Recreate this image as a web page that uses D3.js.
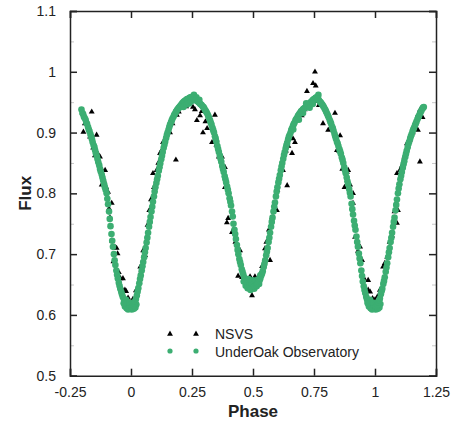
<!DOCTYPE html>
<html>
<head>
<meta charset="utf-8">
<script src="https://cdn.jsdelivr.net/npm/d3@7"></script>
<style>
  body { margin: 0; background: #fff; }
  text { font-family: "Liberation Sans", Arial, sans-serif; }
</style>
</head>
<body>
<div id="chart-area"></div>
<script>
var margin = { left: 70, right: 17, top: 11, bottom: 47.3 };
var width = 453 - margin.left - margin.right,
    height = 423 - margin.top - margin.bottom;

// tick values
var xTicks = [-0.25, 0, 0.25, 0.5, 0.75, 1, 1.25];
var yTicks = [0.5, 0.6, 0.7, 0.8, 0.9, 1, 1.1];
var yMinor = [0.55, 0.65, 0.75, 0.85, 0.95, 1.05];

var seriesNames = ["NSVS", "UnderOak Observatory"];

// NSVS points [phase, flux]
var nsvs = [
  [-0.195,.901],[-0.189,.915],[-0.183,.921],[-0.176,.91],[-0.168,.893],[-0.161,.934],[-0.155,.875],
  [-0.148,.862],[-0.141,.896],[-0.137,.866],[-0.127,.86],[-0.12,.814],[-0.118,.838],[-0.112,.822],
  [-0.106,.838],[-0.102,.81],[-0.094,.802],[-0.09,.775],[-0.086,.76],[-0.079,.784],[-0.078,.722],
  [-0.072,.688],[-0.066,.712],[-0.059,.71],[-0.055,.701],[-0.05,.67],[-0.043,.66],[-0.036,.642],
  [-0.033,.66],[-0.025,.641],[-0.02,.639],[-0.012,.628],[0.008,.626],
  [0.02,.64],[0.028,.644],[0.038,.679],[0.042,.673],[0.05,.706],[0.058,.698],[0.068,.748],[0.075,.772],
  [0.082,.79],[0.09,.833],[0.094,.81],[0.105,.838],[0.112,.85],[0.119,.866],[0.125,.87],[0.131,.884],
  [0.142,.893],[0.16,.9],[0.17,.915],[0.18,.932],[0.184,.855],[0.188,.929],[0.196,.934],[0.205,.942],
  [0.215,.948],[0.226,.943],[0.24,.95],[0.254,.942],
  [0.262,.938],[0.27,.92],[0.283,.928],[0.29,.935],[0.295,.9],[0.305,.918],[0.312,.907],[0.324,.92],
  [0.332,.884],[0.344,.929],[0.35,.88],[0.36,.86],[0.373,.86],[0.385,.843],[0.385,.81],[0.393,.752],
  [0.398,.759],[0.406,.794],[0.414,.736],[0.42,.74],[0.428,.72],[0.439,.664],[0.447,.706],[0.455,.662],
  [0.462,.658],[0.475,.652],[0.488,.663],[0.496,.632],[0.508,.663],[0.515,.65],
  [0.52,.66],[0.53,.668],[0.537,.68],[0.549,.709],[0.555,.72],[0.565,.74],[0.57,.69],[0.578,.76],
  [0.598,.772],[0.6,.805],[0.61,.833],[0.623,.838],[0.64,.813],[0.635,.87],[0.645,.878],[0.66,.866],
  [0.664,.89],[0.672,.884],[0.685,.92],[0.7,.928],[0.712,.938],[0.721,.968],[0.73,.945],[0.746,.981],
  [0.754,1.0],[0.757,.977],[0.76,.952],
  [0.77,.945],[0.787,.915],[0.795,.94],[0.808,.904],[0.82,.91],[0.836,.932],[0.844,.871],[0.852,.87],
  [0.857,.895],[0.866,.84],[0.875,.81],[0.885,.835],[0.89,.838],[0.898,.814],[0.91,.784],[0.91,.8],
  [0.918,.728],[0.93,.705],[0.939,.712],[0.947,.69],[0.955,.66],[0.965,.64],[0.972,.657],[0.972,.641],
  [0.98,.638],[0.99,.627],[1.0,.625],
  [1.01,.63],[1.02,.641],[1.033,.679],[1.04,.685],[1.05,.695],[1.06,.72],[1.07,.73],[1.08,.77],
  [1.09,.751],[1.094,.772],[1.09,.833],[1.102,.838],[1.11,.845],[1.12,.86],[1.131,.882],[1.143,.888],
  [1.155,.9],[1.165,.91],[1.176,.904],[1.184,.852],[1.176,.929],[1.184,.937],[1.195,.925]
];

// UnderOak Observatory points [phase, flux]
var underOak = [
  [-0.203,.938],[-0.199,.932],[-0.196,.93],[-0.193,.926],[-0.19,.924],[-0.186,.921],[-0.183,.916],
  [-0.18,.914],[-0.176,.909],[-0.173,.905],[-0.17,.902],[-0.166,.897],[-0.163,.893],[-0.16,.889],
  [-0.157,.884],[-0.153,.879],[-0.15,.876],[-0.147,.871],[-0.144,.866],[-0.14,.861],[-0.137,.856],
  [-0.134,.851],[-0.13,.846],[-0.127,.84],[-0.124,.836],[-0.12,.831],[-0.117,.826],[-0.114,.821],
  [-0.11,.815],[-0.107,.81],[-0.104,.806],[-0.1,.8],[-0.097,.791],[-0.094,.782],[-0.09,.77],
  [-0.087,.758],[-0.084,.746],[-0.08,.733],[-0.077,.722],[-0.074,.712],[-0.07,.7],[-0.067,.69],
  [-0.064,.682],[-0.06,.673],[-0.057,.666],[-0.054,.66],[-0.05,.653],[-0.047,.648],[-0.044,.643],
  [-0.04,.638],[-0.037,.634],[-0.034,.63],[-0.03,.627],[-0.027,.624],[-0.024,.621],[-0.02,.619],
  [-0.017,.617],[-0.014,.615],[-0.01,.613],[-0.007,.612],[-0.004,.611],[0,.612],
  [-0.025,.614],[-0.018,.611],[-0.012,.609],[-0.005,.616],[0.003,.609],[0.008,.613],[0.012,.61],
  [-0.02,.625],[0.015,.617],[-0.008,.62],[0.005,.62],[0.018,.612],[-0.03,.619],[0.022,.617],
  [0.004,.613],[0.007,.614],[0.01,.616],[0.014,.619],[0.017,.622],[0.02,.626],[0.024,.632],
  [0.027,.638],[0.03,.644],[0.034,.652],[0.037,.659],[0.04,.665],[0.044,.673],[0.047,.68],
  [0.05,.687],[0.054,.695],[0.057,.703],[0.06,.71],[0.064,.719],[0.067,.727],[0.07,.735],
  [0.074,.745],[0.077,.753],[0.08,.761],[0.084,.77],[0.087,.778],[0.09,.786],[0.094,.795],
  [0.097,.803],[0.1,.81],[0.104,.817],[0.107,.823],[0.11,.829],[0.114,.837],[0.117,.843],
  [0.12,.849],[0.124,.856],[0.127,.862],[0.13,.868],[0.134,.875],[0.137,.88],[0.14,.885],
  [0.144,.891],[0.147,.896],[0.15,.9],[0.154,.905],[0.157,.909],[0.16,.913],[0.164,.917],
  [0.167,.92],[0.17,.923],[0.174,.926],[0.177,.929],[0.18,.931],[0.184,.934],[0.187,.936],
  [0.19,.938],[0.194,.94],[0.197,.941],[0.2,.943],[0.204,.945],[0.207,.946],[0.21,.948],
  [0.214,.95],[0.217,.951],[0.22,.952],[0.224,.953],[0.227,.954],[0.23,.955],[0.234,.955],
  [0.237,.956],[0.24,.957],[0.244,.958],[0.247,.957],[0.25,.959],
  [0.215,.942],[0.228,.946],[0.238,.948],[0.246,.951],[0.258,.962],[0.268,.958],[0.28,.954],
  [0.254,.957],[0.257,.956],[0.26,.955],[0.264,.954],[0.267,.953],[0.27,.952],[0.274,.951],
  [0.277,.95],[0.28,.949],[0.284,.947],[0.287,.946],[0.29,.945],[0.294,.943],[0.297,.942],
  [0.3,.94],[0.304,.937],[0.307,.935],[0.31,.933],[0.314,.93],[0.317,.927],[0.32,.924],
  [0.324,.92],[0.327,.916],[0.33,.913],[0.334,.908],[0.337,.904],[0.34,.9],[0.344,.894],
  [0.347,.89],[0.35,.885],[0.354,.878],[0.357,.873],[0.36,.868],[0.364,.862],[0.367,.857],
  [0.37,.852],[0.374,.845],[0.377,.84],[0.38,.835],[0.384,.828],[0.387,.823],[0.39,.818],
  [0.394,.811],[0.397,.806],[0.4,.8],[0.404,.792],[0.407,.786],[0.41,.78],[0.414,.77],
  [0.417,.762],[0.42,.75],[0.424,.74],[0.427,.733],[0.43,.725],[0.434,.715],[0.437,.707],
  [0.44,.7],[0.444,.692],[0.447,.687],[0.45,.682],[0.454,.675],[0.457,.671],[0.46,.667],
  [0.464,.662],[0.467,.659],[0.47,.656],[0.474,.653],[0.477,.651],[0.48,.65],[0.484,.648],
  [0.487,.647],[0.49,.647],[0.494,.646],[0.497,.646],[0.5,.646],
  [0.47,.648],[0.478,.644],[0.485,.654],[0.49,.641],[0.495,.652],[0.5,.657],[0.505,.643],
  [0.51,.655],[0.515,.647],[0.52,.658],[0.482,.659],[0.525,.651],[0.462,.655],[0.53,.665],
  [0.504,.647],[0.507,.647],[0.51,.648],[0.514,.649],[0.517,.651],[0.52,.652],[0.524,.655],
  [0.527,.657],[0.53,.66],[0.534,.665],[0.537,.668],[0.54,.672],[0.544,.679],[0.547,.684],
  [0.55,.69],[0.554,.698],[0.557,.704],[0.56,.71],[0.564,.72],[0.567,.727],[0.57,.735],
  [0.574,.745],[0.577,.753],[0.58,.76],[0.584,.77],[0.587,.778],[0.59,.785],[0.594,.795],
  [0.597,.803],[0.6,.81],[0.604,.818],[0.607,.824],[0.61,.83],[0.614,.838],[0.617,.844],
  [0.62,.85],[0.624,.857],[0.627,.863],[0.63,.868],[0.634,.874],[0.637,.879],[0.64,.883],
  [0.644,.889],[0.647,.893],[0.65,.896],[0.654,.9],[0.657,.904],[0.66,.907],[0.664,.911],
  [0.667,.914],[0.67,.916],[0.674,.92],[0.677,.922],[0.68,.924],[0.684,.927],[0.687,.929],
  [0.69,.931],[0.694,.933],[0.697,.935],[0.7,.936],[0.704,.938],[0.707,.939],[0.71,.94],
  [0.714,.941],[0.717,.942],[0.72,.943],[0.724,.945],[0.727,.946],[0.73,.947],[0.734,.949],
  [0.737,.95],[0.74,.951],[0.744,.953],[0.747,.954],[0.75,.955],[0.754,.956],[0.757,.957],
  [0.76,.958],
  [0.665,.905],[0.688,.921],[0.705,.932],[0.718,.948],[0.732,.941],[0.745,.947],[0.768,.962],
  [0.764,.956],[0.767,.955],[0.77,.953],[0.774,.951],[0.777,.95],[0.78,.948],[0.784,.946],
  [0.787,.944],[0.79,.942],[0.794,.939],[0.797,.937],[0.8,.934],[0.804,.931],[0.807,.928],
  [0.81,.925],[0.814,.921],[0.817,.918],[0.82,.915],[0.824,.91],[0.827,.907],[0.83,.903],
  [0.834,.898],[0.837,.894],[0.84,.89],[0.844,.885],[0.847,.882],[0.85,.878],[0.854,.873],
  [0.857,.869],[0.86,.865],[0.864,.859],[0.867,.855],[0.87,.85],[0.874,.843],[0.877,.838],
  [0.88,.833],[0.884,.826],[0.887,.82],[0.89,.815],[0.894,.807],[0.897,.801],[0.9,.795],
  [0.904,.783],[0.907,.774],[0.91,.765],[0.914,.755],[0.917,.747],[0.92,.74],[0.924,.729],
  [0.927,.72],[0.93,.712],[0.934,.701],[0.937,.693],[0.94,.685],[0.944,.673],[0.947,.664],
  [0.95,.655],[0.954,.647],[0.957,.641],[0.96,.636],[0.964,.63],[0.967,.626],[0.97,.622],
  [0.974,.619],[0.977,.617],[0.98,.615],[0.984,.614],[0.987,.613],[0.99,.613],[0.994,.612],
  [0.997,.612],[1.0,.613],
  [0.975,.614],[0.982,.611],[0.988,.609],[0.995,.616],[1.003,.609],[1.008,.613],[1.012,.61],
  [0.98,.625],[1.015,.617],[0.992,.62],[1.005,.62],[1.018,.612],[0.97,.619],[1.022,.618],
  [1.004,.614],[1.007,.615],[1.01,.617],[1.014,.621],[1.017,.624],[1.02,.627],[1.024,.634],
  [1.027,.639],[1.03,.643],[1.034,.651],[1.037,.656],[1.04,.662],[1.044,.671],[1.047,.678],
  [1.05,.685],[1.054,.695],[1.057,.703],[1.06,.71],[1.064,.72],[1.067,.727],[1.07,.735],
  [1.074,.745],[1.077,.753],[1.08,.76],[1.084,.772],[1.087,.781],[1.09,.79],[1.094,.8],
  [1.097,.808],[1.1,.815],[1.104,.823],[1.107,.829],[1.11,.835],[1.114,.842],[1.117,.848],
  [1.12,.853],[1.124,.86],[1.127,.865],[1.13,.87],[1.134,.876],[1.137,.881],[1.14,.885],
  [1.144,.89],[1.147,.894],[1.15,.897],[1.154,.902],[1.157,.905],[1.16,.908],[1.164,.912],
  [1.167,.915],[1.17,.918],[1.174,.922],[1.177,.925],[1.18,.927],[1.184,.931],[1.187,.934],
  [1.19,.936],[1.194,.939],[1.197,.941],[1.2,.942]
];

var green = "#3cae72";

var svg = d3.select("#chart-area")
    .append("svg")
      .attr("width", width + margin.left + margin.right)
      .attr("height", height + margin.top + margin.bottom);

var g = svg.append("g")
    .attr("transform", "translate(" + margin.left + ", " + margin.top + ")");

var x = d3.scaleLinear().domain([-0.25, 1.25]).range([0, width]);
var y = d3.scaleLinear().domain([0.5, 1.1]).range([height, 0]);

var fmt = function(d) { return String(d); };

// minor ticks (y only)
g.append("g")
    .attr("class", "minor")
    .call(d3.axisLeft(y).tickValues(yMinor).tickSize(-4).tickFormat(""));
g.append("g")
    .attr("class", "minor")
    .attr("transform", "translate(" + width + ",0)")
    .call(d3.axisRight(y).tickValues(yMinor).tickSize(-4).tickFormat(""));

// major axes
g.append("g")
    .attr("class", "axis")
    .attr("transform", "translate(0," + height + ")")
    .call(d3.axisBottom(x).tickValues(xTicks).tickSize(-7).tickPadding(11).tickFormat(fmt));
g.append("g")
    .attr("class", "axis")
    .call(d3.axisLeft(y).tickValues(yTicks).tickSize(-7).tickPadding(14).tickFormat(fmt));
g.append("g")
    .attr("class", "axis")
    .call(d3.axisTop(x).tickValues(xTicks).tickSize(-7).tickFormat(""));
g.append("g")
    .attr("class", "axis")
    .attr("transform", "translate(" + width + ",0)")
    .call(d3.axisRight(y).tickValues(yTicks).tickSize(-7).tickFormat(""));

g.selectAll(".axis path, .axis line")
    .attr("stroke", "#222")
    .attr("stroke-width", 1.5);
g.selectAll(".minor path").remove();
g.selectAll(".minor line")
    .attr("stroke", "#c8c8c8")
    .attr("stroke-width", 1);
g.selectAll(".axis text")
    .attr("font-size", "14px")
    .attr("fill", "#222");

// points
var tri = d3.symbol().type(d3.symbolTriangle).size(15);

g.append("g").selectAll("path")
    .data(nsvs)
    .enter()
    .append("path")
      .attr("d", tri)
      .attr("transform", function(d) { return "translate(" + x(d[0]) + "," + y(d[1]) + ")"; })
      .attr("fill", "#000");

g.append("g").selectAll("circle")
    .data(underOak)
    .enter()
    .append("circle")
      .attr("cx", function(d) { return x(d[0]); })
      .attr("cy", function(d) { return y(d[1]); })
      .attr("r", 3.3)
      .attr("fill", green);

// legend
var legend = svg.append("g").attr("transform", "translate(170,334)");
[0, 26].forEach(function(dx) {
  legend.append("path").attr("d", tri).attr("transform", "translate(" + dx + ",0)").attr("fill", "#000");
  legend.append("circle").attr("cx", dx).attr("cy", 17).attr("r", 2.6).attr("fill", green);
});
legend.append("text").attr("x", 45).attr("y", 5).attr("font-size", "14px").attr("fill", "#222").text(seriesNames[0]);
legend.append("text").attr("x", 45).attr("y", 22.5).attr("font-size", "14px").attr("fill", "#222").text(seriesNames[1]);

// axis titles
svg.append("text")
    .attr("x", margin.left + width / 2)
    .attr("y", 416.5)
    .attr("text-anchor", "middle")
    .attr("font-size", "17px")
    .attr("font-weight", "bold")
    .attr("fill", "#222")
    .text("Phase");

svg.append("text")
    .attr("transform", "translate(31," + (margin.top + height / 2) + ") rotate(-90)")
    .attr("text-anchor", "middle")
    .attr("font-size", "17px")
    .attr("font-weight", "bold")
    .attr("fill", "#222")
    .text("Flux");
</script>
</body>
</html>
